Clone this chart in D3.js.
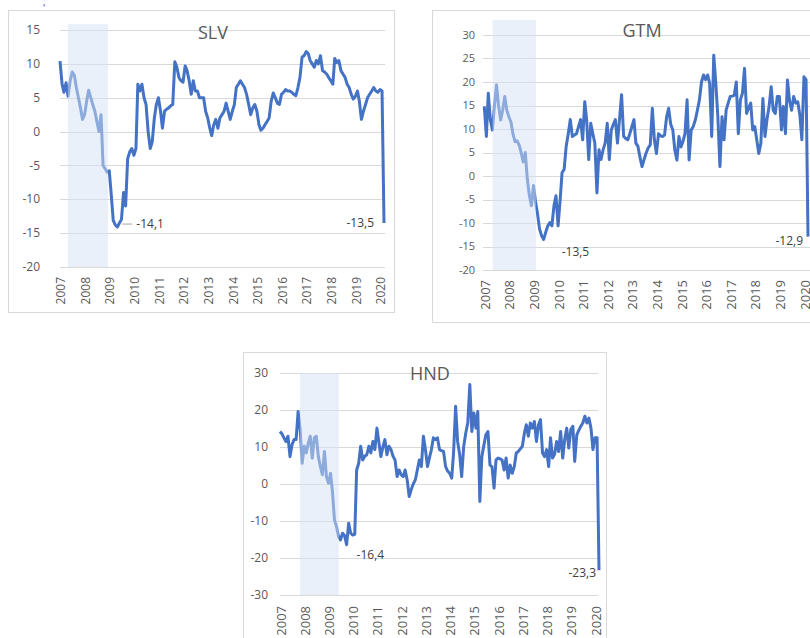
<!DOCTYPE html>
<html>
<head>
<meta charset="utf-8">
<script src="https://cdn.jsdelivr.net/npm/d3@7"></script>
<style>
  body { margin: 0; background: #fff; }
  svg { display: block; font-family: "Open Sans", "Noto Sans", sans-serif; }
</style>
</head>
<body>
<svg id="chart" width="810" height="638"></svg>
<script>
// monthly data, Jan 2007 .. Mar 2020
var years = ["2007","2008","2009","2010","2011","2012","2013","2014","2015","2016","2017","2018","2019","2020"];

var slvValues = [
  10.4, 7.0, 5.8, 7.2, 5.2, 7.5, 8.8, 8.3, 6.5, 5.0, 3.5, 1.8,
  2.5, 4.5, 6.1, 5.0, 4.0, 3.0, 1.5, 0.0, 2.5, -5.0, -5.5, -6.0,
  -5.8, -9.5, -13.1, -13.8, -14.1, -13.5, -13.0, -9.0, -11.0, -4.0, -3.0, -2.5,
  -3.5, -2.5, 7.0, 6.0, 7.0, 5.0, 4.0, 0.0, -2.5, -1.5, 2.0, 4.0,
  5.0, 3.0, 0.5, 3.0, 3.3, 3.5, 3.8, 4.0, 10.3, 9.5, 8.0, 7.5,
  7.3, 9.7, 9.0, 7.5, 5.5, 7.5, 6.0, 6.0, 5.0, 5.0, 5.0, 3.0,
  2.0, 0.5, -0.6, 1.0, 1.8, 0.5, 2.0, 2.5, 3.0, 4.2, 3.0, 1.8,
  3.0, 4.0, 6.5, 7.0, 7.5, 7.0, 6.5, 5.5, 4.0, 2.5, 3.5, 4.0,
  3.0, 1.0, 0.2, 0.5, 1.0, 1.5, 2.0, 4.5, 5.7, 5.0, 4.2, 4.0,
  5.5, 5.8, 6.2, 6.0, 6.0, 5.8, 5.5, 5.3, 6.5, 8.0, 11.0, 11.2,
  11.8, 11.5, 10.5, 10.0, 9.5, 10.5, 10.0, 11.2, 9.0, 8.8, 8.5, 8.0,
  7.5, 7.0, 10.8, 10.2, 10.5, 9.0, 8.5, 8.0, 7.0, 6.5, 5.5, 4.8,
  5.2, 6.0, 4.5, 1.8, 3.0, 4.0, 5.0, 5.5, 6.0, 6.5, 6.0, 5.8,
  6.2, 6.0, -13.5
];

var gtmValues = [
  14.8, 8.4, 17.6, 12.0, 9.8, 15.0, 19.4, 15.0, 11.9, 14.0, 16.9, 14.0,
  12.6, 11.5, 9.0, 7.3, 7.5, 6.6, 5.0, 3.0, 5.0, -0.7, -4.2, -6.3,
  -2.0, -5.6, -8.0, -11.3, -12.7, -13.5, -12.0, -10.6, -9.9, -10.6, -6.3, -4.2,
  -10.6, -5.0, 0.7, 1.4, 6.3, 9.0, 12.0, 8.4, 8.7, 9.0, 10.5, 12.0,
  7.7, 15.8, 12.0, 3.5, 11.2, 9.0, 7.0, -3.6, 5.6, 3.5, 5.6, 7.0,
  11.2, 3.5, 9.8, 11.0, 12.0, 7.0, 12.0, 17.3, 8.4, 8.0, 7.7, 9.0,
  10.5, 12.0, 7.0, 6.3, 4.0, 2.0, 3.5, 4.9, 6.0, 6.6, 14.4, 7.7,
  4.8, 9.0, 8.6, 8.4, 8.7, 12.6, 14.4, 11.0, 9.8, 5.5, 3.4, 8.4,
  6.2, 7.5, 9.0, 16.2, 3.4, 9.8, 10.5, 11.9, 14.0, 16.2, 20.0, 21.5,
  20.5, 21.5, 19.7, 8.4, 25.7, 19.7, 12.6, 2.0, 12.6, 7.7, 14.0, 15.5,
  16.9, 17.0, 17.2, 20.0, 9.0, 16.2, 17.6, 22.9, 13.3, 14.5, 15.5, 9.8,
  10.5, 7.5, 4.8, 7.0, 16.5, 8.4, 12.0, 14.8, 19.0, 14.0, 13.3, 16.9,
  16.9, 9.8, 14.8, 9.0, 20.4, 16.0, 14.0, 16.9, 15.5, 15.8, 13.0, 7.7,
  21.1, 20.5, -12.9
];

var hndValues = [
  14.2, 13.5, 12.5, 11.5, 12.9, 7.4, 10.6, 12.0, 12.0, 19.6, 14.7, 5.6,
  10.2, 8.4, 11.0, 12.9, 7.0, 12.5, 12.9, 7.4, 4.7, 2.5, 8.8, 2.0,
  0.2, 2.9, -2.0, -9.7, -11.5, -14.2, -15.1, -13.3, -14.0, -16.4, -10.6, -13.3,
  -13.8, -13.6, 3.8, 5.6, 10.2, 6.5, 7.5, 7.9, 10.2, 8.4, 11.5, 9.3,
  15.1, 11.1, 7.4, 10.0, 12.0, 7.9, 10.2, 9.3, 7.5, 6.5, 2.0, 3.8,
  2.5, 2.0, 3.8, 1.1, -3.4, -1.5, 0.0, 1.1, 3.8, 6.5, 4.7, 12.9,
  9.3, 4.7, 7.0, 9.3, 12.5, 12.0, 12.5, 9.3, 9.0, 8.8, 4.7, 3.5,
  2.9, 1.6, 8.4, 21.0, 11.5, 8.0, 2.0, 10.2, 13.8, 16.5, 26.9, 14.2,
  19.2, 15.1, 19.6, -4.7, 7.4, 10.5, 13.3, 14.2, 5.1, 4.7, -1.1, 6.5,
  7.0, 6.8, 6.5, 3.8, 7.0, 1.6, 5.1, 2.9, 4.7, 8.4, 8.8, 9.5,
  10.2, 13.8, 16.0, 12.9, 16.5, 15.1, 16.9, 11.5, 16.0, 17.4, 8.4, 7.4,
  9.3, 4.7, 12.5, 7.0, 8.0, 11.5, 8.8, 14.2, 7.0, 12.0, 15.1, 9.7,
  14.7, 15.6, 6.1, 13.3, 14.5, 15.6, 16.5, 18.3, 16.5, 17.8, 15.1, 9.3,
  12.5, 12.5, -23.3
];

var slvTicks = [15, 10, 5, 0, -5, -10, -15, -20];
var gtmTicks = [30, 25, 20, 15, 10, 5, 0, -5, -10, -15, -20];
var hndTicks = [30, 20, 10, 0, -10, -20, -30];

var months = d3.timeMonth.range(new Date(2007, 0, 1), new Date(2020, 3, 1));

var svg = d3.select("#chart");

// stray mark at top left of the source image
svg.append("text").attr("x", 43).attr("y", 12).attr("font-size", 10).attr("fill", "#444").text("'");

var panels = [
  { name: "SLV", values: slvValues, ticks: slvTicks,
    box: [8, 10, 394, 312], xr: [60, 384], yr: [267, 30], grid: [60, 385],
    bandFrom: new Date(2007, 3, 28), bandTo: new Date(2008, 11, 12), bandTop: 24,
    title: [213, 39], tickX: 40, tickSize: 12, labelTop: 277, labelSize: 12,
    notes: [
      { i: 28, text: "-14,1", dx: 19, dy: -3, anchor: "start", leader: true },
      { i: 158, text: "-13,5", dx: -10, dy: 0, anchor: "end" }
    ] },
  { name: "GTM", values: gtmValues, ticks: gtmTicks,
    box: [432, 10, 812, 322], xr: [484.3, 808], yr: [270, 35], grid: [483, 810],
    bandFrom: new Date(2007, 4, 5), bandTo: new Date(2009, 1, 5), bandTop: 20,
    title: [642, 37], tickX: 475, tickSize: 11, labelTop: 280, labelSize: 13,
    notes: [
      { i: 29, text: "-13,5", dx: 18, dy: 12, anchor: "start" },
      { i: 158, text: "-12,9", dx: -5, dy: 4, anchor: "end" }
    ] },
  { name: "HND", values: hndValues, ticks: hndTicks,
    box: [243, 352, 606, 660], xr: [280, 599], yr: [595, 373], grid: [280, 598],
    bandFrom: new Date(2007, 9, 28), bandTo: new Date(2009, 5, 5), bandTop: 373,
    title: [430, 380], tickX: 268, tickSize: 12, labelTop: 606, labelSize: 13,
    notes: [
      { i: 33, text: "-16,4", dx: 10, dy: 10, anchor: "start" },
      { i: 158, text: "-23,3", dx: -3, dy: 3, anchor: "end" }
    ] }
];

panels.forEach(function(p) { drawPanel(p); });

function drawPanel(p) {
  var g = svg.append("g");
  var x = d3.scaleTime().domain([months[0], months[months.length - 1]]).range(p.xr);
  var y = d3.scaleLinear().domain([d3.min(p.ticks), d3.max(p.ticks)]).range(p.yr);

  // frame
  g.append("rect")
    .attr("x", p.box[0] + 0.5).attr("y", p.box[1] + 0.5)
    .attr("width", p.box[2] - p.box[0]).attr("height", p.box[3] - p.box[1])
    .attr("fill", "#fff").attr("stroke", "#d9d9d9");

  // grid lines
  g.selectAll(".grid")
    .data(p.ticks)
    .enter().append("line")
    .attr("x1", p.grid[0]).attr("x2", p.grid[1])
    .attr("y1", function(d) { return Math.round(y(d)) + 0.5; })
    .attr("y2", function(d) { return Math.round(y(d)) + 0.5; })
    .attr("stroke", "#d9d9d9");

  // y labels
  g.selectAll(".ytick")
    .data(p.ticks)
    .enter().append("text")
    .attr("x", p.tickX).attr("y", function(d) { return y(d); })
    .attr("dy", "0.35em")
    .attr("text-anchor", "end")
    .attr("font-size", p.tickSize)
    .attr("fill", "#595959")
    .text(function(d) { return d; });

  // x labels, rotated
  g.selectAll(".xtick")
    .data(years)
    .enter().append("text")
    .attr("transform", function(d) {
      return "translate(" + (x(new Date(+d, 0, 1)) + 1) + "," + p.labelTop + ") rotate(-90)";
    })
    .attr("dy", "0.35em")
    .attr("text-anchor", "end")
    .attr("font-size", p.labelSize)
    .attr("fill", "#595959")
    .text(function(d) { return d; });

  // title
  g.append("text")
    .attr("x", p.title[0]).attr("y", p.title[1])
    .attr("text-anchor", "middle")
    .attr("font-size", 18)
    .attr("fill", "#595959")
    .text(p.name);

  var line = d3.line()
    .x(function(d, i) { return x(months[i]); })
    .y(function(d) { return y(d); });

  g.append("path")
    .datum(p.values)
    .attr("d", line)
    .attr("fill", "none")
    .attr("stroke", "#4472c4")
    .attr("stroke-width", 3)
    .attr("stroke-linejoin", "round");

  // shaded period, drawn over the line so it looks faded
  g.append("rect")
    .attr("x", x(p.bandFrom)).attr("y", p.bandTop)
    .attr("width", x(p.bandTo) - x(p.bandFrom))
    .attr("height", y(d3.min(p.ticks)) - p.bandTop)
    .attr("fill", "#d6e1f3")
    .attr("opacity", 0.5);

  // data labels
  p.notes.forEach(function(n) {
    var px = x(months[n.i]), py = y(p.values[n.i]);
    if (n.leader) {
      g.append("line")
        .attr("x1", px + 5).attr("x2", px + 15)
        .attr("y1", py + n.dy).attr("y2", py + n.dy)
        .attr("stroke", "#a6a6a6");
    }
    g.append("text")
      .attr("x", px + n.dx).attr("y", py + n.dy)
      .attr("dy", "0.35em")
      .attr("text-anchor", n.anchor)
      .attr("font-size", 12)
      .attr("fill", "#404040")
      .text(n.text);
  });
}
</script>
</body>
</html>
